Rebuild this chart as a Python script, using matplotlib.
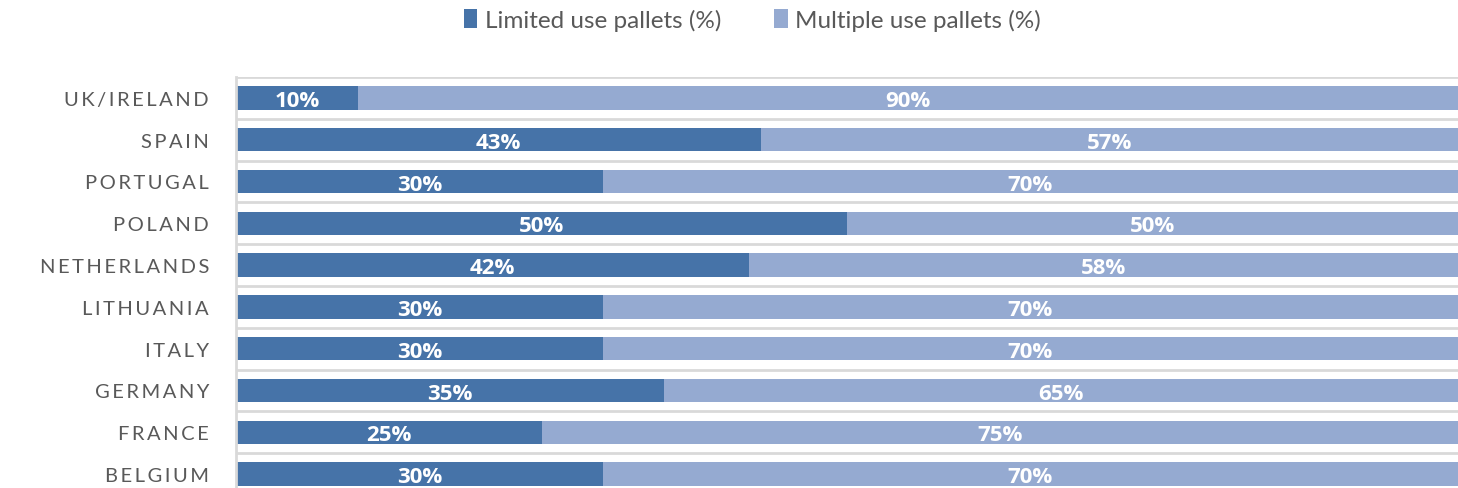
import matplotlib
matplotlib.use("Agg")
import matplotlib.pyplot as plt
import numpy as np

countries = ["UK/IRELAND", "SPAIN", "PORTUGAL", "POLAND", "NETHERLANDS",
             "LITHUANIA", "ITALY", "GERMANY", "FRANCE", "BELGIUM"]
limited = [10, 43, 30, 50, 42, 30, 30, 35, 25, 30]
multiple = [90, 57, 70, 50, 58, 70, 70, 65, 75, 70]
series_names = ["Limited use pallets (%)", "Multiple use pallets (%)"]

c_dark = "#4673A8"
c_light = "#95AAD1"
font = ["Lato", "DejaVu Sans"]
bold_font = ["Open Sans", "DejaVu Sans"]
plt.rcParams["font.family"] = font

fig = plt.figure(figsize=(14.58, 4.89), dpi=100)
ax = fig.add_axes([236 / 1458, (489 - 496) / 489, (1458 - 236) / 1458, (496 - 78) / 489])

y = np.arange(len(countries))
h = 0.56
b1 = ax.barh(y, limited, height=h, color=c_dark, label=series_names[0])
b2 = ax.barh(y, multiple, left=limited, height=h, color=c_light, label=series_names[1])

for bars, vals in ((b1, limited), (b2, multiple)):
    for rect, v in zip(bars, vals):
        cx = rect.get_x() + rect.get_width() / 2
        cy = rect.get_y() + rect.get_height() / 2
        ax.text(cx, cy + 0.06, f"{v}%", ha="center", va="center", color="white",
                fontsize=16, fontweight="bold", family=bold_font)

ax.set_xlim(0, 100)
ax.set_ylim(len(countries) - 0.5, -0.5)
ax.set_yticks(y)
sp = "\u2009"
ax.set_yticklabels([sp.join(c) for c in countries], fontsize=14.5, color="#595959",
                   family=font)
ax.tick_params(axis="y", length=0, pad=19.5)
ax.set_xticks([])
ax.set_yticks(np.arange(len(countries) + 1) - 0.5, minor=True)
ax.tick_params(axis="y", which="minor", length=0)
ax.grid(axis="y", which="minor", color="#D9D9D9", linewidth=2)
ax.set_axisbelow(True)
for s in ["top", "right", "bottom"]:
    ax.spines[s].set_visible(False)
ax.spines["left"].set_color("#D9D9D9")
ax.spines["left"].set_linewidth(2)

leg = fig.legend(handles=[b1, b2], loc="upper center", bbox_to_anchor=(0.516, 1.025),
                 ncol=2, frameon=False, fontsize=17.5, handlelength=0.55, handleheight=0.8,
                 handletextpad=0.3, columnspacing=2.2)
for t in leg.get_texts():
    t.set_color("#595959")

fig.savefig("out.png", dpi=100)
